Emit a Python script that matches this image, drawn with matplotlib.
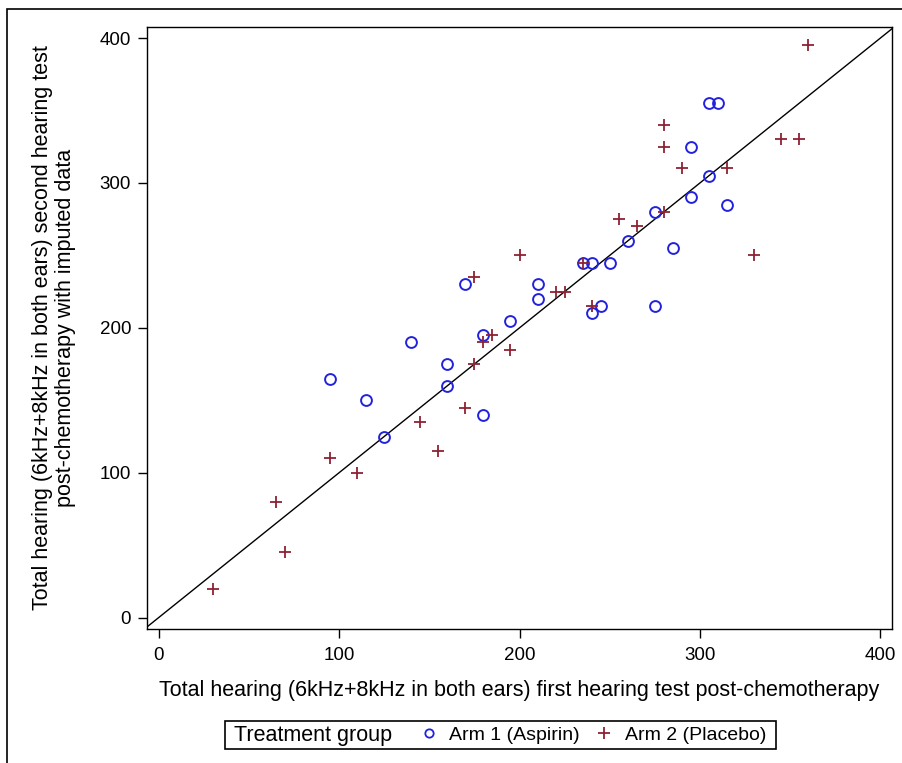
import matplotlib
matplotlib.use("Agg")
import matplotlib.pyplot as plt
from matplotlib.lines import Line2D
from matplotlib.patches import Rectangle

plt.rcParams['font.family'] = ['Liberation Sans', 'DejaVu Sans']

# Arm 1 (Aspirin): first test vs second test
arm1_x = [95, 115, 125, 140, 160, 160, 170, 180, 180, 195, 210, 210, 235, 240,
          240, 245, 250, 260, 275, 275, 285, 295, 295, 305, 305, 310, 315]
arm1_y = [165, 150, 125, 190, 175, 160, 230, 195, 140, 205, 230, 220, 245, 245,
          210, 215, 245, 260, 280, 215, 255, 325, 290, 305, 355, 355, 285]

# Arm 2 (Placebo)
arm2_x = [30, 65, 70, 95, 110, 145, 155, 170, 175, 175, 180, 185, 195, 200, 220,
          225, 235, 240, 255, 265, 280, 280, 280, 290, 315, 330, 345, 355, 360]
arm2_y = [20, 80, 45, 110, 100, 135, 115, 145, 175, 235, 190, 195, 185, 250, 225,
          225, 245, 215, 275, 270, 340, 325, 280, 310, 310, 250, 330, 330, 395]

ticks = [0, 100, 200, 300, 400]
blue = '#2222DD'
red = '#8E2232'

fig = plt.figure(figsize=(9.02, 7.63), dpi=100)
ax = fig.add_axes([147/902, 1-628.7/763, 745/902, 601.7/763])

ax.axline((0, 0), slope=1, color='black', lw=1.0, zorder=1)
ax.plot(arm1_x, arm1_y, linestyle='none', marker='o', ms=7.8, mfc='none',
        mec=blue, mew=1.4, zorder=3)
ax.plot(arm2_x, arm2_y, linestyle='none', marker='+', ms=9, mec=red,
        mew=1.3, zorder=3)

ax.set_xlim(-6.4, 406.4)
ax.set_ylim(-7.6, 407.6)
ax.set_xticks(ticks)
ax.set_yticks(ticks)
ax.tick_params(direction='out', length=6.5, width=1.0, labelsize=13.5, pad=5)
ax.tick_params(axis='x', pad=7)
for s in ax.spines.values():
    s.set_linewidth(1.0)

ax.set_xlabel('Total hearing (6kHz+8kHz in both ears) first hearing test post-chemotherapy',
              fontsize=15.5, labelpad=11)
ax.set_ylabel('Total hearing (6kHz+8kHz in both ears) second hearing test\n'
              'post-chemotherapy with imputed data', fontsize=15.5, labelpad=17,
              linespacing=1.15)

# outer frame (left and top visible)
fig.patches.append(Rectangle((7/902, -0.5), 2, 1.5 - 9/763, transform=fig.transFigure,
                             fill=False, lw=1.2, edgecolor='black'))

# legend
fig.patches.append(Rectangle((225/902, 1-749/763), 551/902, 28/763,
                             transform=fig.transFigure, fill=False, lw=1.2,
                             edgecolor='black'))
fig.text(234/902, 1-735/763, 'Treatment group', fontsize=15.5, va='center', ha='left')
handles = [Line2D([], [], linestyle='none', marker='o', ms=6, mfc='none', mec=blue, mew=1.3),
           Line2D([], [], linestyle='none', marker='+', ms=9, mec=red, mew=1.3)]
fig.legend(handles, ['Arm 1 (Aspirin)', 'Arm 2 (Placebo)'], ncol=2, frameon=False,
           loc='center left', bbox_to_anchor=(421/902, 1-735/763), fontsize=14,
           handlelength=0.8, handletextpad=0.65, columnspacing=0.85, borderpad=0,
           borderaxespad=0)

fig.savefig('out.png', dpi=100)
